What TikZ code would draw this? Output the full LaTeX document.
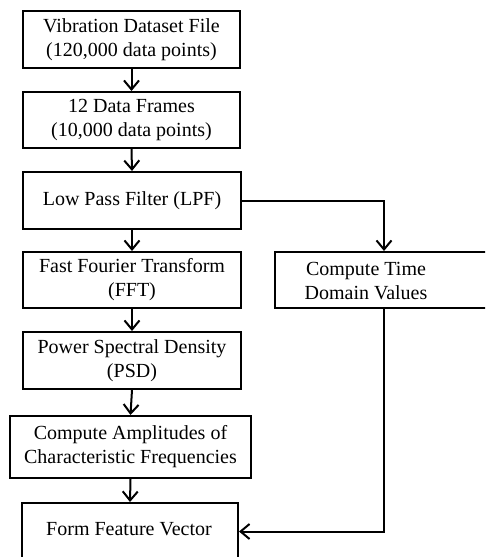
\documentclass[tikz,border=0pt]{standalone}
\usepackage{fontspec}
\setmainfont{Liberation Serif}
\usetikzlibrary{arrows.meta}
\begin{document}
\begin{tikzpicture}[x=1pt,y=-1pt,
  box/.style={draw,line width=2pt,align=center,inner sep=0pt,font=\fontsize{20}{24}\selectfont},
  arr/.style={line width=2pt,-{Straight Barb[length=9pt,width=15pt,line width=2pt]}}]
\useasboundingbox (0,0) rectangle (485,557);
\begin{scope}
\clip (0,0) rectangle (485,557);
\node[box,minimum width=217pt,minimum height=57pt] (b1) at (131.5,39.5) {Vibration Dataset File\\(120,000 data points)};
\node[box,minimum width=217pt,minimum height=56pt] (b2) at (131.5,120) {12 Data Frames\\(10,000 data points)};
\node[box,minimum width=218pt,minimum height=57pt] (b3) at (132,200.5) {Low Pass Filter (LPF)};
\node[box,minimum width=218pt,minimum height=56pt] (b4) at (132,280) {Fast Fourier Transform\\(FFT)};
\node[box,minimum width=218pt,minimum height=57pt] (b5) at (132,360.5) {Power Spectral Density\\(PSD)};
\node[box,minimum width=241pt,minimum height=62pt] (b6) at (130.5,447) {Compute Amplitudes of\\Characteristic Frequencies};
\node[box,minimum width=216pt,minimum height=57pt] (b7) at (130,531.5) {};
\node[font=\fontsize{20}{24}\selectfont,inner sep=0pt] (b7t) at (129,529) {Form Feature Vector};
\node[box,minimum width=218pt,minimum height=56pt] (tdv) at (384,280) {};
\node[font=\fontsize{20}{24}\selectfont,inner sep=0pt,align=center] (tdvt) at (366,281) {Compute Time\\Domain Values};
\draw[arr] (b1.south) -- (b2.north);
\draw[arr] (b2.south) -- (b3.north);
\draw[arr] (b3.south) -- (b4.north);
\draw[arr] (b4.south) -- (b5.north);
\draw[arr] (b5.south) -- (b6.north);
\draw[arr] (b6.south) -- (b7.north);
\draw[arr] (b3.east) -| (tdv.north);
\draw[arr] (tdv.south) |- (b7.east);
\end{scope}
\end{tikzpicture}
\end{document}
